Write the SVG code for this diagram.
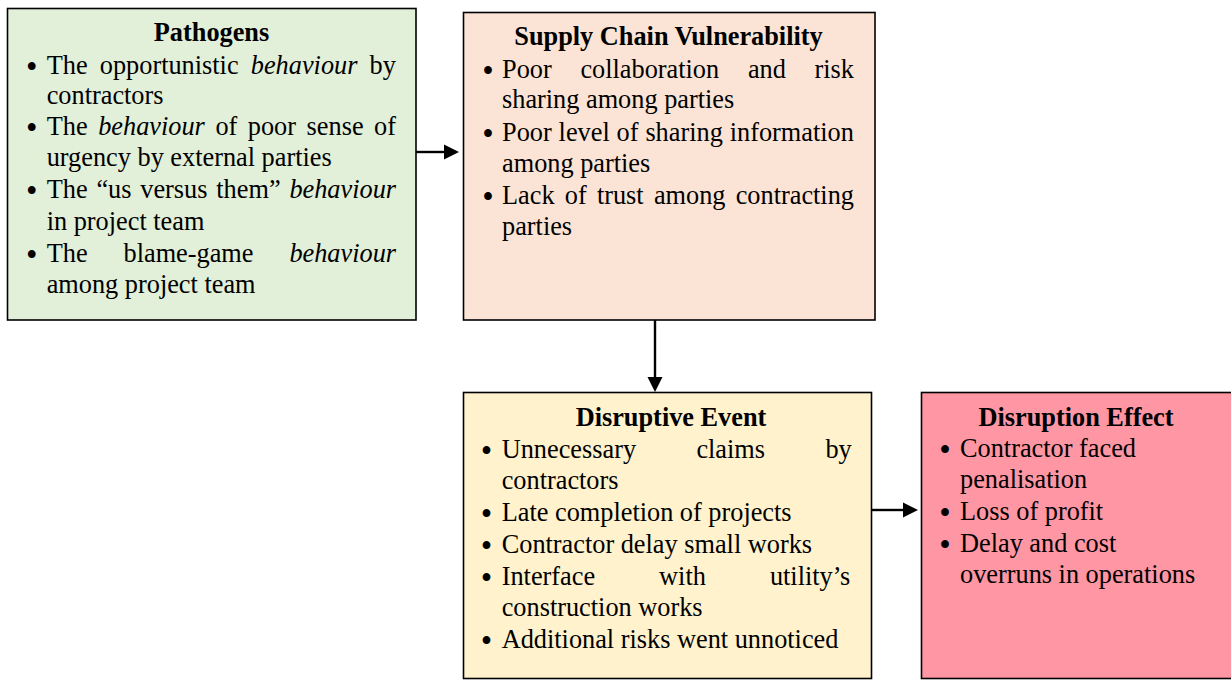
<svg xmlns="http://www.w3.org/2000/svg" width="1231" height="680" viewBox="0 0 1231 680">
<style>
.box{stroke:#000;stroke-width:1.6}
text{font-family:"Liberation Serif","Times New Roman",serif;font-size:26.3px;fill:#000}
.t{font-weight:bold;text-anchor:middle}
.i{font-style:italic}
.b{font-size:28.5px;font-weight:bold}
.conn{stroke:#000;stroke-width:2.4;fill:none}
</style>
<defs>
<marker id="ah" markerWidth="16" markerHeight="16" refX="0" refY="0" viewBox="-1 -8 16 16" orient="auto" markerUnits="userSpaceOnUse">
<path d="M0,-7.5 L15,0 L0,7.5 Z" fill="#000"/>
</marker>
</defs>
<rect width="1231" height="680" fill="#fff"/>

<g id="connectors">
<line class="conn" x1="416" y1="152" x2="444" y2="152" marker-end="url(#ah)"/>
<line class="conn" x1="655" y1="320" x2="655" y2="377" marker-end="url(#ah)"/>
<line class="conn" x1="871" y1="510" x2="903" y2="510" marker-end="url(#ah)"/>
</g>

<g id="pathogens">
<rect class="box" x="7.5" y="8.5" width="408.5" height="311.5" fill="#E2EFD9"/>
<text class="t" x="211.5" y="41">Pathogens</text>
<text><tspan class="b" x="26.7" y="75.8">•</tspan><tspan x="46.7" y="74">The</tspan><tspan x="99.8">opportunistic</tspan><tspan x="250.8" class="i">behaviour</tspan><tspan x="369.6">by</tspan></text>
<text x="46.7" y="104">contractors</text>
<text><tspan class="b" x="26.7" y="136.8">•</tspan><tspan x="46.7" y="135">The</tspan><tspan x="98.2" class="i">behaviour</tspan><tspan x="215.4">of</tspan><tspan x="247.8">poor</tspan><tspan x="306.6">sense</tspan><tspan x="374.1">of</tspan></text>
<text x="46.7" y="166">urgency by external parties</text>
<text><tspan class="b" x="26.7" y="199.8">•</tspan><tspan x="46.7" y="198">The</tspan><tspan x="96.4">“us</tspan><tspan x="140.3">versus</tspan><tspan x="216.3">them”</tspan><tspan x="289.4" class="i">behaviour</tspan></text>
<text x="46.7" y="230">in project team</text>
<text><tspan class="b" x="26.7" y="263.8">•</tspan><tspan x="46.7" y="262">The</tspan><tspan x="123.5">blame-game</tspan><tspan x="289.4" class="i">behaviour</tspan></text>
<text x="46.7" y="293">among project team</text>
</g>

<g id="supply-chain-vulnerability">
<rect class="box" x="463.5" y="12.5" width="411.5" height="307.5" fill="#FBE4D5"/>
<text class="t" x="668.5" y="45">Supply Chain Vulnerability</text>
<text><tspan class="b" x="483" y="79.8">•</tspan><tspan x="502" y="78">Poor</tspan><tspan x="580.4">collaboration</tspan><tspan x="747.9">and</tspan><tspan x="814.5">risk</tspan></text>
<text x="502" y="108">sharing among parties</text>
<text><tspan class="b" x="483" y="142.8">•</tspan><tspan x="502" y="141">Poor</tspan><tspan x="558.6">level</tspan><tspan x="616.6">of</tspan><tspan x="645.4">sharing</tspan><tspan x="729.7">information</tspan></text>
<text x="502" y="172">among parties</text>
<text><tspan class="b" x="483" y="205.8">•</tspan><tspan x="502" y="204">Lack</tspan><tspan x="564.8">of</tspan><tspan x="596.9">trust</tspan><tspan x="653.9">among</tspan><tspan x="735.7">contracting</tspan></text>
<text x="502" y="235">parties</text>
</g>

<g id="disruptive-event">
<rect class="box" x="463.5" y="392.5" width="408" height="286" fill="#FFF2CC"/>
<text class="t" x="671" y="426">Disruptive Event</text>
<text><tspan class="b" x="481.5" y="459.8">•</tspan><tspan x="501.7" y="458">Unnecessary</tspan><tspan x="696.4">claims</tspan><tspan x="825.4">by</tspan></text>
<text x="501.7" y="489">contractors</text>
<text><tspan class="b" x="481.5" y="522.8">•</tspan><tspan x="501.7" y="521">Late completion of projects</tspan></text>
<text><tspan class="b" x="481.5" y="554.8">•</tspan><tspan x="501.7" y="553">Contractor delay small works</tspan></text>
<text><tspan class="b" x="481.5" y="586.8">•</tspan><tspan x="501.7" y="585">Interface</tspan><tspan x="659.1">with</tspan><tspan x="769.9">utility’s</tspan></text>
<text x="501.7" y="616">construction works</text>
<text><tspan class="b" x="481.5" y="649.8">•</tspan><tspan x="501.7" y="648">Additional risks went unnoticed</tspan></text>
</g>

<g id="disruption-effect">
<rect class="box" x="921.5" y="392.5" width="320" height="286" fill="#FF96A3"/>
<text class="t" x="1076" y="426">Disruption Effect</text>
<text><tspan class="b" x="940" y="458.8">•</tspan><tspan x="960" y="457">Contractor faced</tspan></text>
<text x="960" y="488">penalisation</text>
<text><tspan class="b" x="940" y="521.8">•</tspan><tspan x="960" y="520">Loss of profit</tspan></text>
<text><tspan class="b" x="940" y="553.8">•</tspan><tspan x="960" y="552">Delay and cost</tspan></text>
<text x="960" y="583">overruns in operations</text>
</g>
</svg>
